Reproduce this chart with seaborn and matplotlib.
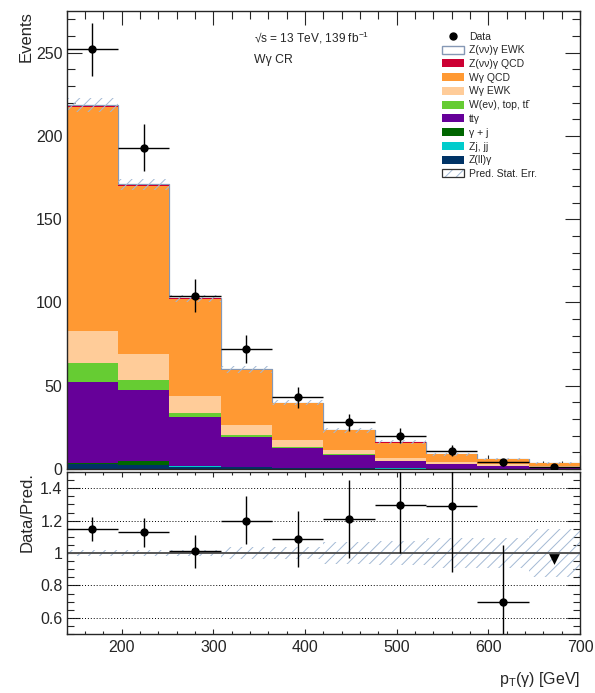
import numpy as np
import matplotlib
matplotlib.use("Agg")
import matplotlib.pyplot as plt
from matplotlib.patches import Patch
from matplotlib.lines import Line2D
from matplotlib.ticker import MultipleLocator, FixedLocator, FuncFormatter
import seaborn as sns

# ---- binning (photon pT, GeV) ----
bin_edges = [140, 196, 252, 308, 364, 420, 476, 532, 588, 644, 700]

# ---- predicted yields per bin, listed from the bottom of the stack upwards ----
z_ll_gamma   = [3.0, 2.2, 1.5, 1.0, 0.7, 0.5, 0.3, 0.2, 0.1, 0.1]
zj_jj        = [0.3, 0.2, 0.1, 0.1, 0.05, 0.05, 0.02, 0.02, 0.01, 0.01]
gamma_j      = [0.5, 2.3, 0.4, 0.3, 0.1, 0.1, 0.05, 0.05, 0.02, 0.02]
tt_gamma     = [48.2, 42.7, 29.3, 17.9, 11.9, 7.75, 4.4, 2.5, 1.4, 0.9]
w_enu_top    = [11.4, 6.2, 2.4, 1.0, 0.5, 0.4, 0.2, 0.2, 0.1, 0.1]
w_gamma_ewk  = [19.6, 15.4, 10.3, 6.0, 4.0, 2.5, 1.8, 1.2, 1.2, 0.9]
w_gamma_qcd  = [134.3, 101.0, 58.0, 33.2, 22.3, 11.9, 9.1, 4.6, 3.2, 1.8]
z_nn_gamma_qcd = [0.9, 0.7, 0.4, 0.25, 0.15, 0.1, 0.06, 0.04, 0.03, 0.02]
z_nn_gamma_ewk = [0.3, 0.25, 0.15, 0.1, 0.08, 0.05, 0.04, 0.03, 0.02, 0.02]

# relative statistical uncertainty of the prediction
pred_stat_rel = [0.02, 0.02, 0.02, 0.035, 0.04, 0.065, 0.075, 0.09, 0.09, 0.15]

# ---- observed data ----
data_counts = [252, 193, 104, 72, 43, 28, 20, 11, 4, 1]
data_err    = [16, 14, 10, 8.5, 6.5, 5.3, 4.5, 3.3, 2.0, 1.0]

# ---- data / prediction ----
ratio_vals = [1.149, 1.129, 1.012, 1.200, 1.088, 1.210, 1.296, 1.292, 0.696]
ratio_lo   = [1.073, 1.040, 0.910, 1.057, 0.914, 0.970, 1.000, 0.884, 0.350]
ratio_hi   = [1.224, 1.216, 1.114, 1.353, 1.261, 1.450, 1.600, 1.600, 1.047]
ratio_arrow_bin = [9]
ratio_arrow_y   = [0.965]

processes = [
    ("Z(ll)γ", z_ll_gamma, "#003366", None),
    ("Zj, jj", zj_jj, "#00cccc", None),
    ("γ + j", gamma_j, "#006600", None),
    ("ttγ", tt_gamma, "#660099", None),
    ("W(eν), top, tt\u0304", w_enu_top, "#66cc33", None),
    ("Wγ EWK", w_gamma_ewk, "#ffcc99", None),
    ("Wγ QCD", w_gamma_qcd, "#ff9933", None),
    ("Z(νν)γ QCD", z_nn_gamma_qcd, "#cc0033", None),
    ("Z(νν)γ EWK", z_nn_gamma_ewk, "#ffffff", "#8598b5"),
]

sns.set_style("ticks")
plt.rcParams["font.family"] = ["Liberation Sans", "DejaVu Sans"]
plt.rcParams["mathtext.default"] = "regular"
plt.rcParams["hatch.linewidth"] = 0.7

edges = np.array(bin_edges, dtype=float)
centers = 0.5 * (edges[:-1] + edges[1:])
width = np.diff(edges)

fig = plt.figure(figsize=(5.95, 6.93), dpi=100)
ax = fig.add_axes([0.1121, 0.3232, 0.8627, 0.6609])
rax = fig.add_axes([0.1121, 0.0851, 0.8627, 0.2338])

# cumulative stack, drawn from the tallest layer down
cum = np.cumsum(np.array([p[1] for p in processes], dtype=float), axis=0)
for i in reversed(range(len(processes))):
    label, vals, color, edge = processes[i]
    sns.histplot(x=list(centers), weights=list(cum[i]), bins=bin_edges, element="step",
                 fill=True, color=color, alpha=1.0,
                 edgecolor=edge if edge else color,
                 linewidth=0.9 if edge else 0.0, ax=ax)

total = cum[-1]
stat = total * np.array(pred_stat_rel)
hatch_col = "#a3b9d4"
ax.bar(centers, 2 * stat, bottom=total - stat, width=width, fill=False,
       hatch="///", edgecolor=hatch_col, linewidth=0)

# data points
ax.errorbar(centers, data_counts, yerr=data_err, xerr=width / 2, fmt="none",
            ecolor="black", elinewidth=1.0, capsize=0, zorder=5)
sns.scatterplot(x=centers, y=data_counts, color="black", s=36, marker="o",
                edgecolor="black", linewidth=0, zorder=6, ax=ax)

ax.set_xlim(140, 700)
ax.set_ylim(0, 275)
ax.xaxis.set_major_locator(MultipleLocator(100))
ax.xaxis.set_minor_locator(MultipleLocator(20))
ax.yaxis.set_major_locator(MultipleLocator(50))
ax.yaxis.set_minor_locator(MultipleLocator(10))
ax.tick_params(axis="x", which="major", length=10, labelbottom=False)
ax.tick_params(axis="x", which="minor", length=5.5)
ax.tick_params(axis="y", which="major", length=11)
ax.tick_params(axis="y", which="minor", length=5.8)
ax.tick_params(which="both", direction="in", top=True, right=True,
               width=0.8, labelsize=11.5, pad=3)
ax.set_xlabel("")
ax.set_ylabel("Events", loc="top", fontsize=12)
ax.yaxis.set_label_coords(-0.064, 1.0)

# annotation block, positioned in axes fractions
ax.text(0.364, 0.932, "√s = 13 TeV, 139 fb$^{-1}$", transform=ax.transAxes,
        fontsize=8.6, va="baseline", ha="left")
ax.text(0.364, 0.887, "Wγ CR", transform=ax.transAxes,
        fontsize=8.8, va="baseline", ha="left")

# legend
handles = [Line2D([], [], marker="o", color="black", linestyle="none", markersize=5)]
labels = ["Data"]
for label, vals, color, edge in reversed(processes):
    handles.append(Patch(facecolor=color, edgecolor=edge if edge else color,
                         linewidth=1.0 if edge else 0.0))
    labels.append(label)
handles.append((Patch(facecolor="white", edgecolor=hatch_col, hatch="///", linewidth=0),
                Patch(facecolor="none", edgecolor="#333333", linewidth=0.9)))
labels.append("Pred. Stat. Err.")
ax.legend(handles, labels, loc="upper left", bbox_to_anchor=(441.5 / 595, 1 - 31.5 / 693),
          bbox_transform=fig.transFigure, frameon=False, fontsize=7.5,
          borderpad=0, borderaxespad=0, handlelength=2.15, handleheight=0.8,
          handletextpad=0.5, labelspacing=0.36)

for s in ax.spines.values():
    s.set_linewidth(1.0)
    s.set_visible(True)

# ---- ratio panel ----
rax.bar(centers, 2 * np.array(pred_stat_rel), bottom=1 - np.array(pred_stat_rel),
        width=width, fill=False, hatch="///", edgecolor=hatch_col, linewidth=0)
for yv in [0.6, 0.8, 1.2, 1.4]:
    rax.axhline(yv, color="black", linestyle=(0, (1, 2)), linewidth=0.7)
rax.axhline(1.0, color="#555555", linewidth=1.4)

n_r = len(ratio_vals)
rv = np.array(ratio_vals)
rx = centers[:n_r]
rax.errorbar(rx, rv, yerr=[rv - np.array(ratio_lo), np.array(ratio_hi) - rv],
             xerr=width[:n_r] / 2, fmt="none", ecolor="black", elinewidth=1.0,
             capsize=0, zorder=5)
sns.scatterplot(x=rx, y=rv, color="black", s=36, marker="o", linewidth=0,
                zorder=6, ax=rax)
sns.scatterplot(x=centers[ratio_arrow_bin], y=ratio_arrow_y, color="black", s=60,
                marker="v", linewidth=0, zorder=6, ax=rax)

rax.set_xlim(140, 700)
rax.set_ylim(0.5, 1.5)
rax.xaxis.set_major_locator(MultipleLocator(100))
rax.xaxis.set_minor_locator(MultipleLocator(20))
rax.yaxis.set_major_locator(FixedLocator([0.6, 0.8, 1.0, 1.2, 1.4]))
rax.yaxis.set_minor_locator(MultipleLocator(0.05))
rax.yaxis.set_major_formatter(FuncFormatter(lambda v, p: f"{v:g}"))
rax.tick_params(axis="x", which="major", length=3.8)
rax.tick_params(axis="x", which="minor", length=2.2)
rax.tick_params(axis="y", which="major", length=9.4)
rax.tick_params(axis="y", which="minor", length=5)
rax.tick_params(which="both", direction="in", top=True, right=True,
                width=0.8, labelsize=11.5)
rax.tick_params(axis="x", pad=4)
rax.tick_params(axis="y", pad=3)
rax.set_ylabel("Data/Pred.", loc="top", fontsize=12)
rax.yaxis.set_label_coords(-0.062, 1.0)
rax.set_xlabel("p$_{T}$(γ) [GeV]", loc="right", fontsize=11.5)
rax.xaxis.set_label_coords(1.0, -0.222)
for s in rax.spines.values():
    s.set_linewidth(1.0)
    s.set_visible(True)

fig.savefig("out.png", dpi=100)
